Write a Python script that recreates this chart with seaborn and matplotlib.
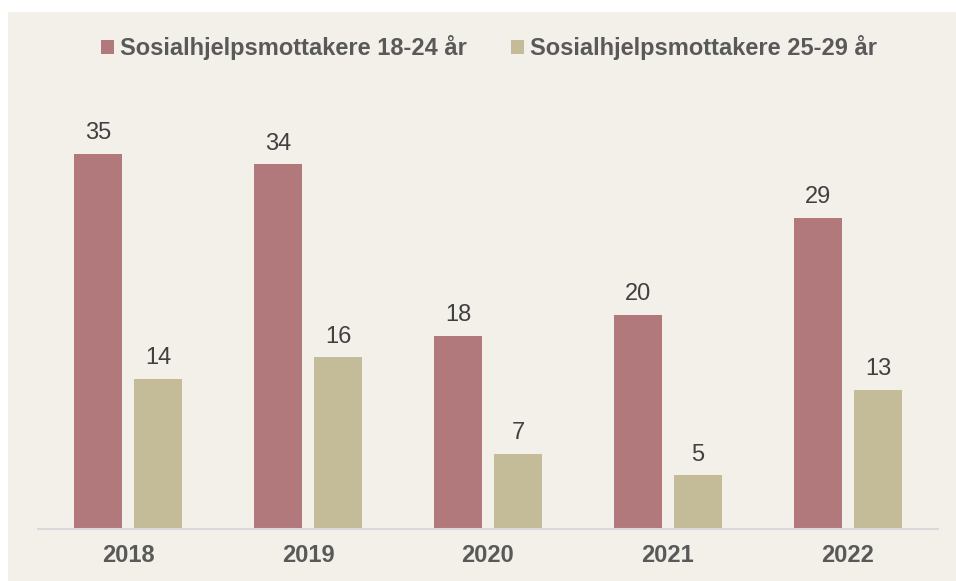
import pandas as pd
import seaborn as sns
import matplotlib.pyplot as plt
from matplotlib.patches import Rectangle

years = ['2018', '2019', '2020', '2021', '2022']
series_names = ['Sosialhjelpsmottakere 18-24 år', 'Sosialhjelpsmottakere 25-29 år']
values_18_24 = [35, 34, 18, 20, 29]
values_25_29 = [14, 16, 7, 5, 13]
colors = ['#B2797D', '#C4BB98']

bg = '#F3F0EA'

df = pd.DataFrame({
    'year': years * 2,
    'group': [series_names[0]] * len(years) + [series_names[1]] * len(years),
    'value': values_18_24 + values_25_29,
})

sns.set_style('white')
plt.rcParams['font.family'] = ['Liberation Sans', 'DejaVu Sans']

W, H = 956, 581
fig = plt.figure(figsize=(W / 100, H / 100), dpi=100)
fig.patch.set_facecolor('white')
fig.patches.append(Rectangle((8 / W, 0), 1, 1 - 12 / H, transform=fig.transFigure,
                             facecolor=bg, edgecolor='none', zorder=-10))

ax = fig.add_axes([38 / W, (H - 529) / H, 900 / W, 429 / H])
ax.patch.set_alpha(0)

sns.barplot(data=df, x='year', y='value', hue='group', palette=colors,
            saturation=1, linewidth=0, width=0.667, gap=0.216, ax=ax, legend=False)

for cont in ax.containers:
    ax.bar_label(cont, padding=7, fontsize=17, color='#404040')

ax.set_ylim(0, 40)
ax.set_xlim(-0.5, 4.5)
ax.set_xlabel('')
ax.set_ylabel('')
ax.set_yticks([])
ax.tick_params(axis='x', length=0, pad=11)
for lbl in ax.get_xticklabels():
    lbl.set_fontsize(17)
    lbl.set_fontweight('bold')
    lbl.set_color('#595959')

for s in ['top', 'right', 'left']:
    ax.spines[s].set_visible(False)
ax.spines['bottom'].set_color('#D9D9D9')
ax.spines['bottom'].set_linewidth(1.5)

handles = [Rectangle((0, 0), 1, 1, facecolor=c, edgecolor='none') for c in colors]
leg = fig.legend(handles, series_names, loc='center', bbox_to_anchor=(489 / W, 1 - 48 / H),
                 ncol=2, frameon=False, handlelength=0.55, handleheight=0.55,
                 handletextpad=0.25, columnspacing=1.9,
                 prop={'size': 17, 'weight': 'bold'})
for t in leg.get_texts():
    t.set_color('#595959')

fig.savefig('out.png', dpi=100, facecolor='white')
